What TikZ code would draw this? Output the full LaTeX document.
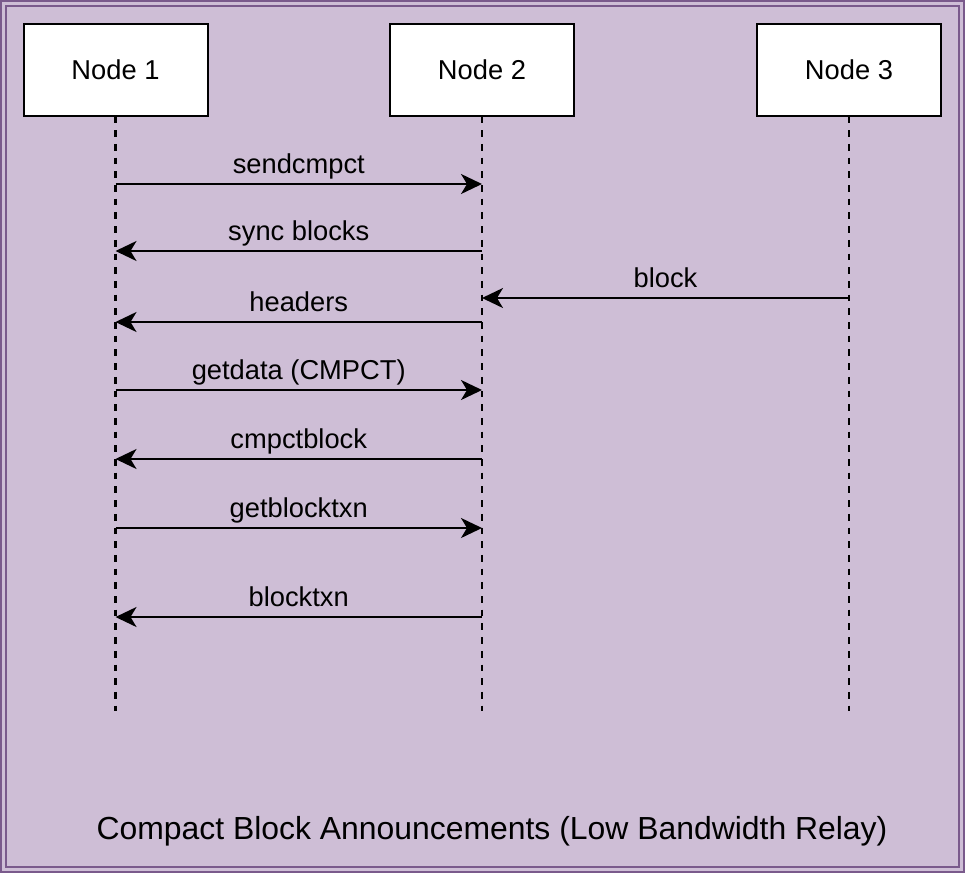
\documentclass[tikz,border=0pt]{standalone}
\usepackage{fontspec}
\setmainfont{Liberation Sans}
\usetikzlibrary{arrows.meta}
\definecolor{panelfill}{RGB}{206,190,214}
\definecolor{panelline}{RGB}{122,90,140}

\begin{document}
\begin{tikzpicture}[x=1pt,y=-1pt,
  actor/.style={draw,line width=2pt,fill=white,minimum width=184pt,minimum height=92pt,
    font=\fontsize{27.3}{30}\selectfont},
  lifeline/.style={line width=2.3pt,dash pattern=on 6.7pt off 7pt},
  msg/.style={font=\fontsize{27.3}{30}\selectfont,anchor=base,yshift=11pt}]
  \useasboundingbox (0,0) rectangle (965,873);
  \fill[panelfill] (0,0) rectangle (965,873);
  \draw[panelline,line width=2pt] (1,1) rectangle (964,872);
  \draw[panelline,line width=2pt] (6,6) rectangle (959,867);

  \node[actor] (n1) at (115.5,69.5) {Node 1};
  \node[actor] (n2) at (482,69.5) {Node 2};
  \node[actor] (n3) at (849,69.5) {Node 3};

  \coordinate (e1) at (115.5,711);
  \coordinate (e2) at (482,711);
  \coordinate (e3) at (849,711);
  \draw[lifeline] (n1.south) -- (e1);
  \draw[lifeline] (n2.south) -- (e2);
  \draw[lifeline] (n3.south) -- (e3);

  \coordinate (m-1-1) at (115.5,184); \coordinate (m-1-2) at (482,184);
  \coordinate (m-2-1) at (115.5,251); \coordinate (m-2-2) at (482,251);
  \coordinate (m-3-2) at (482,298);   \coordinate (m-3-3) at (849,298);
  \coordinate (m-4-1) at (115.5,322); \coordinate (m-4-2) at (482,322);
  \coordinate (m-5-1) at (115.5,390); \coordinate (m-5-2) at (482,390);
  \coordinate (m-6-1) at (115.5,459); \coordinate (m-6-2) at (482,459);
  \coordinate (m-7-1) at (115.5,528); \coordinate (m-7-2) at (482,528);
  \coordinate (m-8-1) at (115.5,617); \coordinate (m-8-2) at (482,617);

  \path[-{Stealth[length=21pt,width=20pt,inset=6pt]},line width=2pt]
    (m-1-1) edge node [msg] {sendcmpct} (m-1-2)
    (m-2-2) edge node [msg] {sync blocks} (m-2-1)
    (m-3-3) edge node [msg] {block} (m-3-2)
    (m-4-2) edge node [msg] {headers} (m-4-1)
    (m-5-1) edge node [msg] {getdata (CMPCT)} (m-5-2)
    (m-6-2) edge node [msg] {cmpctblock} (m-6-1)
    (m-7-1) edge node [msg] {getblocktxn} (m-7-2)
    (m-8-2) edge node [msg] {blocktxn} (m-8-1);

  \node[font=\fontsize{31.9}{36}\selectfont,anchor=base] (title) at (492,839)
    {Compact Block Announcements (Low Bandwidth Relay)};
\end{tikzpicture}
\end{document}
